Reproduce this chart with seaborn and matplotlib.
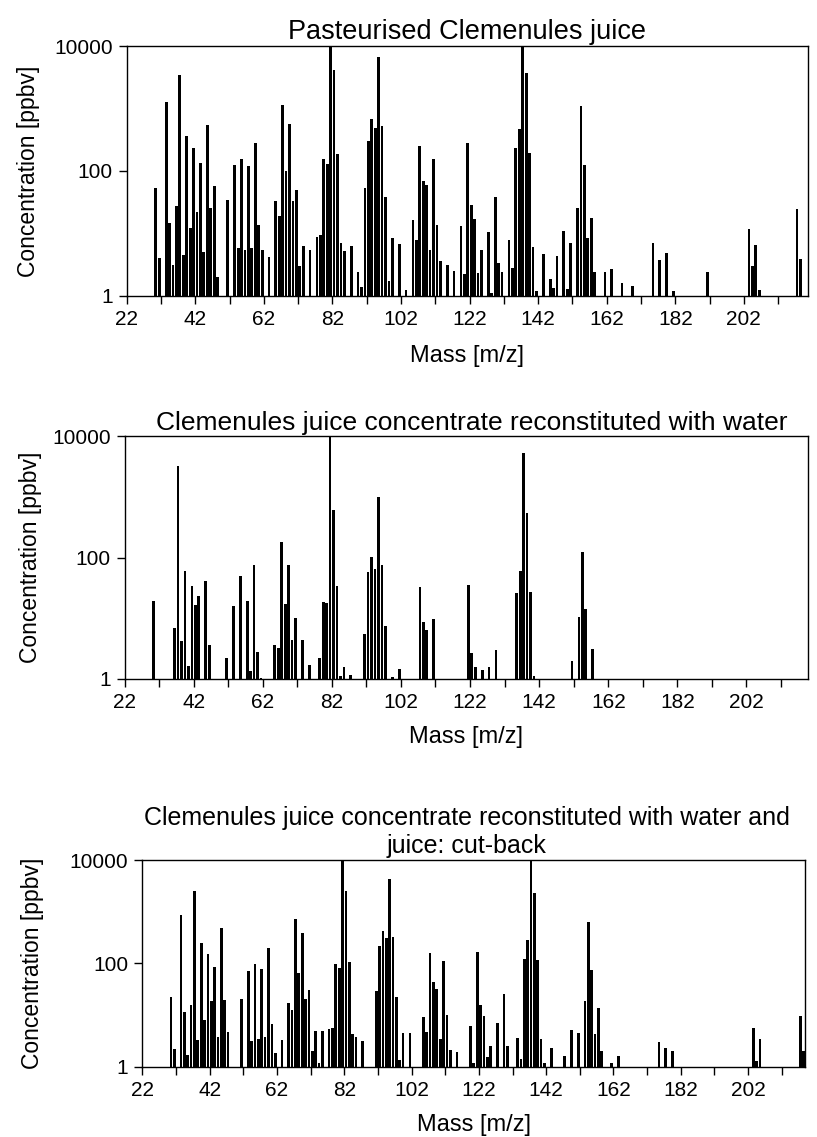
import numpy as np
import pandas as pd
import matplotlib
matplotlib.use("Agg")
import matplotlib.pyplot as plt
import seaborn as sns
from matplotlib.ticker import FixedLocator, NullLocator, FuncFormatter

# ---------------- data ----------------
titles = [
    "Pasteurised Clemenules juice",
    "Clemenules juice concentrate reconstituted with water",
    "Clemenules juice concentrate reconstituted with water and\njuice: cut-back",
]
x_label = "Mass [m/z]"
y_label = "Concentration [ppbv]"
x_major_ticks = [22, 42, 62, 82, 102, 122, 142, 162, 182, 202]
x_minor_ticks = [32, 52, 72, 92, 112, 132, 152, 172, 192, 212]
y_ticks = [1, 100, 10000]

mass_p1 = [30, 31, 33, 34, 35, 36, 37, 38, 39, 40, 41, 42, 43, 44, 45, 46, 47, 48,
           51, 53, 54, 55, 56, 57, 58, 59, 60, 61, 63, 65, 66, 67, 68, 69, 70, 71,
           72, 73, 75, 77, 78, 79, 80, 81, 82, 83, 84, 85, 87, 89, 90, 91, 92, 93,
           94, 95, 96, 97, 98, 99, 101, 103, 105, 106, 107, 108, 109, 110, 111, 112,
           113, 115, 117, 119, 120, 121, 122, 123, 124, 125, 127, 128, 129, 130, 131,
           133, 134, 135, 136, 137, 138, 139, 140, 141, 143, 145, 146, 147, 149, 150,
           151, 153, 154, 155, 156, 157, 158, 161, 163, 166, 169, 175, 177, 179, 181,
           191, 203, 204, 205, 206, 217, 218]
conc_p1 = [54, 4.0, 1280, 14.4, 3.1, 27, 3380, 4.5, 356, 12, 229, 21.9, 135, 5.1, 535, 25, 58, 1.97,
           33.6, 124, 5.9, 153, 5.3, 121, 5.9, 283, 13.6, 5.3, 4.2, 33, 18.9, 1132, 99, 569, 33, 50,
           3.0, 6.3, 5.3, 8.6, 9.3, 153, 129, 10000, 4060, 184, 6.9, 5.2, 6.3, 2.4, 1.4, 54, 300, 676,
           479, 6700, 517, 38.5, 1.74, 8.3, 6.8, 1.23, 16.5, 7.7, 250, 69, 60, 5.3, 154, 13.7,
           3.55, 3.06, 2.5, 12.9, 2.2, 279, 28, 16.9, 2.3, 5.3, 10.3, 1.09, 38.5, 3.4, 2.4,
           7.9, 2.8, 232, 461, 10000, 3730, 195, 6.1, 1.19, 4.6, 1.83, 1.31, 4.3, 10.7, 1.28,
           6.9, 25.4, 1076, 124, 8.3, 17.8, 2.4, 2.4, 2.7, 1.6, 1.43, 6.9, 3.7, 4.9, 1.19,
           2.4, 11.5, 3.0, 6.6, 1.23, 24.7, 3.9]

mass_p2 = [30, 36, 37, 38, 39, 40, 41, 42, 43, 45, 46, 51, 53, 55, 57, 58, 59, 60, 61,
           65, 66, 67, 68, 69, 70, 71, 73, 75, 78, 79, 80, 81, 82, 83, 84, 85, 87,
           91, 92, 93, 94, 95, 96, 97, 99, 101, 107, 108, 109, 111, 121, 122, 123,
           125, 127, 129, 135, 136, 137, 138, 139, 140, 151, 153, 154, 155, 157]
conc_p2 = [19, 6.9, 3280, 4.3, 60, 1.64, 33.7, 16.4, 23, 41, 3.6, 2.2, 16.2, 50, 19.5, 1.37, 75, 2.8, 1.03,
           3.7, 3.3, 181, 17.2, 75, 4.4, 10.1, 4.4, 1.68, 2.2, 18.8, 18, 10000, 620, 33.7, 1.13, 1.56, 1.15,
           5.5, 58, 101, 65, 988, 76, 7.6, 1.07, 1.48, 33, 8.6, 6.5, 9.9, 35, 2.7, 1.6,
           1.43, 1.58, 3.0, 26, 60, 5250, 552, 27, 1.12, 2.0, 10.4, 124, 14.4, 3.1]

mass_p3 = [30, 31, 33, 34, 35, 36, 37, 38, 39, 40, 41, 42, 43, 44, 45, 46, 47,
           51, 53, 54, 55, 56, 57, 58, 59, 60, 61, 63, 65, 66, 67, 68, 69, 70, 71,
           72, 73, 74, 75, 77, 78, 79, 80, 81, 82, 83, 84, 85, 87, 91, 92, 93, 94,
           95, 96, 97, 98, 99, 101, 105, 106, 107, 108, 109, 110, 111, 112, 113, 115,
           119, 120, 121, 122, 123, 124, 125, 127, 129, 130, 133, 134, 135, 136, 137,
           138, 139, 140, 141, 143, 147, 149, 151, 153, 154, 155, 156, 157, 158, 161,
           163, 175, 177, 179, 203, 204, 205, 217, 218]
conc_p3 = [22, 2.2, 873, 11.6, 1.66, 15.4, 2475, 3.3, 244, 8.0, 152, 18.7, 85, 3.8, 483, 19.5, 4.7,
           20.7, 72, 3.2, 96, 3.4, 79, 3.8, 198, 6.7, 1.81, 3.3, 17.3, 12.3, 711, 66, 380, 20, 30,
           2.0, 5.0, 1.2, 4.8, 5.4, 5.5, 96, 82, 10000, 2550, 108, 4.3, 3.8, 3.2, 29.6, 213, 429, 305,
           4225, 323, 22.6, 1.35, 4.5, 4.4, 9.0, 4.7, 156, 43, 32, 3.4, 109, 9.9, 2.07, 1.9,
           6.0, 1.2, 163, 15.5, 9.7, 1.56, 2.5, 7.0, 25.9, 2.5, 3.6, 1.41, 123, 283, 10000,
           2297, 116, 3.4, 1.2, 2.3, 1.6, 5.1, 4.4, 18.9, 622, 73, 4.3, 13.5, 2.0, 1.2,
           1.6, 3.0, 2.3, 2.0, 5.7, 1.3, 3.4, 9.7, 2.0]

# ---------------- style ----------------
sns.set_style("ticks")
plt.rcParams['font.family'] = ['Liberation Sans', 'DejaVu Sans']
plt.rcParams['axes.edgecolor'] = 'black'
plt.rcParams['xtick.color'] = 'black'
plt.rcParams['ytick.color'] = 'black'
plt.rcParams['text.color'] = 'black'
plt.rcParams['axes.labelcolor'] = 'black'

W, H = 817, 1137
fig = plt.figure(figsize=(W / 100, H / 100), dpi=100)

# per panel layout in pixels:
# left, right, top, bottom, x max, ylabel right edge, xlabel top, title size, title center x
boxes = [
    (126.7, 808.3, 46.0, 295.7, 220.8, 40, 345, 19.5, 467.5),
    (124.5, 808.0, 436.5, 679.0, 219.8, 42, 726, 19.0, 472.0),
    (142.3, 805.0, 860.0, 1066.7, 218.9, 44, 1114, 18.0, 467.0),
]
datasets = [(mass_p1, conc_p1), (mass_p2, conc_p2), (mass_p3, conc_p3)]

for (l, r, t, b, xmax, ylx, xly, tsize, tcx), (m, c), title in zip(boxes, datasets, titles):
    ax = fig.add_axes([l / W, 1 - b / H, (r - l) / W, (b - t) / H])
    df = pd.DataFrame({"mass": m, "conc": c})
    sns.histplot(data=df, x="mass", weights="conc", binwidth=1, binrange=(22, 221),
                 shrink=0.8, color="black", alpha=1, linewidth=0,
                 edgecolor="none", ax=ax)
    ax.set_yscale("log")
    ax.set_ylim(1, 10000)
    ax.set_xlim(22, xmax)
    ax.yaxis.set_major_locator(FixedLocator(y_ticks))
    ax.yaxis.set_minor_locator(NullLocator())
    ax.yaxis.set_major_formatter(FuncFormatter(lambda v, p: f"{v:g}"))
    ax.xaxis.set_major_locator(FixedLocator(x_major_ticks))
    ax.xaxis.set_minor_locator(FixedLocator(x_minor_ticks))
    ax.tick_params(axis="both", which="both", direction="out", length=5.5,
                   width=1, labelsize=15, pad=4.5)
    for s in ax.spines.values():
        s.set_linewidth(1.0)
        s.set_color("black")
    ax.set_xlabel(x_label, fontsize=17)
    ax.set_ylabel(y_label, fontsize=16.5)
    ax.yaxis.set_label_coords((ylx - l) / (r - l), 0.5)
    ax.xaxis.set_label_coords(0.5, (b - xly) / (b - t))
    ax.set_title(title, fontsize=tsize, pad=5, x=(tcx - l) / (r - l))

fig.savefig("out.png", dpi=100)
